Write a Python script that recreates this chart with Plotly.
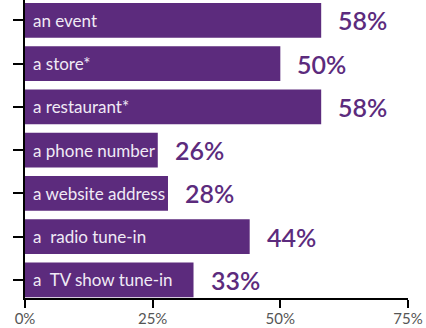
import plotly.graph_objects as go

# Survey categories (top to bottom) and share of respondents
categories = [
    "an event",
    "a store*",
    "a restaurant*",
    "a phone number",
    "a website address",
    "a  radio tune-in",
    "a  TV show tune-in",
]
values = [58, 50, 58, 26, 28, 44, 33]
value_labels = ["58%", "50%", "58%", "26%", "28%", "44%", "33%"]
tick_vals = [0, 25, 50, 75]
tick_text = ["0%", "25%", "50%", "75%"]

PURPLE = "#5c2b7d"
FONT = "Lato"

fig = go.Figure(
    go.Bar(
        x=values,
        y=categories,
        orientation="h",
        marker=dict(color=PURPLE, line=dict(width=0)),
        width=0.8,
        hoverinfo="skip",
    )
)

annotations = []
for cat, val, lab in zip(categories, values, value_labels):
    # category name written inside the bar, left aligned
    annotations.append(dict(
        x=0, y=cat, xref="x", yref="y", text=cat, showarrow=False,
        xanchor="left", yanchor="middle", xshift=6,
        font=dict(family=FONT, size=17, color="#f0eaf5"),
    ))
    # value written just past the bar end
    annotations.append(dict(
        x=val, y=cat, xref="x", yref="y", text=lab, showarrow=False,
        xanchor="left", yanchor="middle", xshift=15,
        font=dict(family=FONT, size=25, color=PURPLE, weight=600),
    ))

fig.update_layout(
    width=426, height=328,
    margin=dict(l=25, r=18, t=0, b=30),
    paper_bgcolor="white", plot_bgcolor="white",
    showlegend=False,
    annotations=annotations,
    xaxis=dict(
        range=[0, 75], tickvals=tick_vals, ticktext=tick_text,
        showgrid=False, zeroline=False,
        showline=True, linecolor="black", linewidth=2,
        ticks="outside", ticklen=8, tickwidth=2, tickcolor="black",
        ticklabelstandoff=-2,
        tickfont=dict(family=FONT, size=15, color="#555555"),
    ),
    yaxis=dict(
        categoryorder="array", categoryarray=categories,
        range=[6.42, -0.47],
        showgrid=False, zeroline=False, showticklabels=False,
        showline=True, linecolor="black", linewidth=2,
        ticks="outside", ticklen=10, tickwidth=2, tickcolor="black",
    ),
)

fig.write_html("out.html")
